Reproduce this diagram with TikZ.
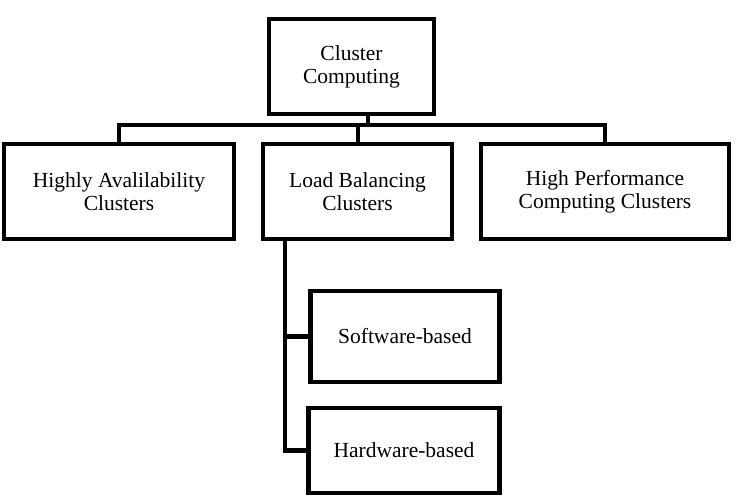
\documentclass[tikz,border=0pt]{standalone}
\usepackage{fontspec}
\setmainfont{Liberation Serif}
\begin{document}
\begin{tikzpicture}[x=1pt,y=-1pt,
  box/.style={draw,line width=4.5pt,align=center,inner sep=0pt,font=\fontsize{21.5}{23}\selectfont},
  link/.style={line width=4.5pt}]
\path[use as bounding box] (0,0) rectangle (740,496);
% boxes
\node[box,minimum width=165pt,minimum height=95pt] (root) at (351.5,66.5) {Cluster\\Computing};
\node[box,minimum width=230pt,minimum height=95pt] (ha) at (119,191.5) {Highly Avalilability\\Clusters};
\node[box,minimum width=189pt,minimum height=95pt] (lb) at (357.5,191.5) {Load Balancing\\Clusters};
\node[box,minimum width=248pt,minimum height=95pt] (hp) at (605,191.5) {High Performance\\Computing Clusters};
\node[box,minimum width=189pt,minimum height=91pt] (sw) at (405,336.5) {Software-based};
\node[box,minimum width=191pt,minimum height=85pt] (hw) at (404,450.5) {Hardware-based};
% connectors
\coordinate (bar) at (368,125);
\coordinate (mid) at (358,125);
\draw[link] (root.south -| bar) -- (bar);
\draw[link] (ha.north) |- (bar) -| (hp.north);
\draw[link] (mid) -- (mid |- lb.north);
\coordinate (trunk) at (285,240);
\draw[link] (trunk |- lb.south) |- (hw.west);
\draw[link] (trunk |- sw.west) -- (sw.west);
\end{tikzpicture}
\end{document}
